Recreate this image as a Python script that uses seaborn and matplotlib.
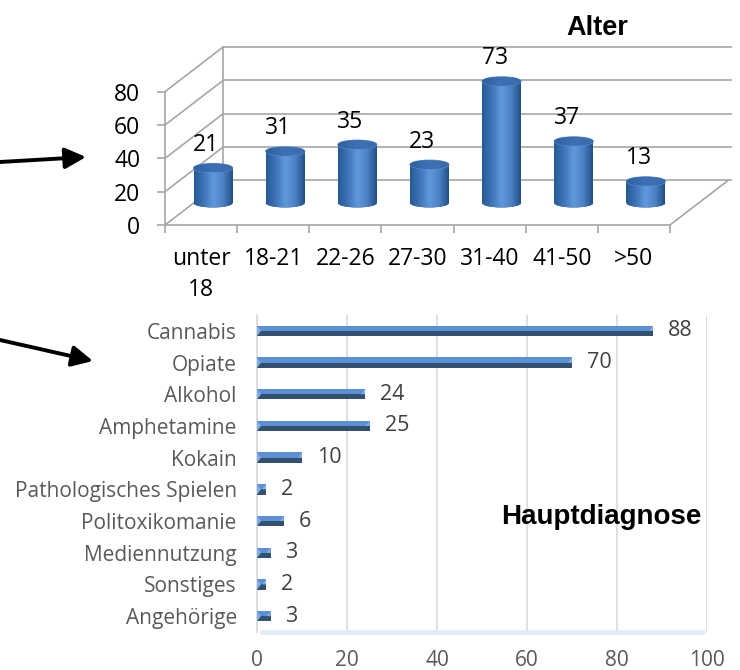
import numpy as np
import matplotlib
matplotlib.use('Agg')
import matplotlib.pyplot as plt
import matplotlib.transforms as mtransforms
from matplotlib.colors import LinearSegmentedColormap
from matplotlib.patches import Ellipse, Rectangle, Polygon, FancyArrowPatch
import seaborn as sns

# data
age_groups = ['unter\n18', '18-21', '22-26', '27-30', '31-40', '41-50', '>50']
age_counts = [21, 31, 35, 23, 73, 37, 13]
age_ticks = [0, 20, 40, 60, 80]

diagnoses = ['Cannabis', 'Opiate', 'Alkohol', 'Amphetamine', 'Kokain',
             'Pathologisches Spielen', 'Politoxikomanie', 'Mediennutzung',
             'Sonstiges', 'Angehörige']
diag_counts = [88, 70, 24, 25, 10, 2, 6, 3, 2, 3]
diag_ticks = [0, 20, 40, 60, 80, 100]

sns.set_style('white')
plt.rcParams['font.family'] = ['Open Sans', 'DejaVu Sans']

W, H = 740, 670
fig = plt.figure(figsize=(W / 100, H / 100), dpi=100)


def fig_box(x0, y0, x1, y1):
    # pixel box (top-left origin) -> figure fraction
    return [x0 / W, 1 - y1 / H, (x1 - x0) / W, (y1 - y0) / H]


def gradient_fill(ax, patch, colors, trans, zorder):
    cmap = LinearSegmentedColormap.from_list('g', colors)
    ext = patch.get_extents()
    inv = trans.inverted()
    (x0, y0), (x1, y1) = inv.transform([[ext.x0, ext.y0], [ext.x1, ext.y1]])
    im = ax.imshow(np.linspace(0, 1, 128)[None, :], cmap=cmap, aspect='auto',
                   extent=[x0, x1, y0, y1], zorder=zorder, interpolation='bilinear')
    im.set_transform(trans)
    im.set_clip_path(patch)


# ---------- top chart: Alter (pseudo 3D cylinders) ----------
ax1 = fig.add_axes(fig_box(165, 30, 732, 225))
ppx = 72.14   # pixels per category
ppy = 1.667   # pixels per count

sns.barplot(x=list(range(len(age_counts))), y=age_counts, color='#4a7fc1',
            width=0.54, ax=ax1, zorder=3, native_scale=True)
ax1.set_xlim(-0.5, -0.5 + 567 / ppx)
ax1.set_ylim(0, 195 / ppy)

# depth of the back wall and of the cylinders (in pixels)
back_dx, back_dy = 58 / ppx, 44.5 / ppy
shift = ax1.transData + mtransforms.Affine2D().translate(12, 22)

grid_col = '#a6a6a6'
x_left, x_right = -0.5, -0.5 + 567 / ppx
for lv in age_ticks:
    ax1.plot([x_left, x_left + back_dx], [lv, lv + back_dy], color=grid_col, lw=1.2, zorder=1)
    ax1.plot([x_left + back_dx, x_right], [lv + back_dy] * 2, color=grid_col, lw=1.2, zorder=1)
ax1.plot([x_left + back_dx] * 2, [back_dy, age_ticks[-1] + back_dy], color=grid_col, lw=1.2, zorder=1)
ax1.plot([len(age_counts) - 0.5, len(age_counts) - 0.5 + back_dx], [0, back_dy],
         color=grid_col, lw=1.2, zorder=1)

ell_h = 9 / ppy
body_cols = ['#285894', '#3f75b8', '#6199da', '#4c82c4', '#24508a']
for i, p in enumerate(ax1.patches):
    p.set_transform(shift)
    p.set_edgecolor('none')
    xc = p.get_x() + p.get_width() / 2
    w = p.get_width()
    v = p.get_height()
    bottom = Ellipse((xc, 0), w, ell_h, transform=shift, facecolor='#3a6fb0',
                     edgecolor='none', zorder=2.5)
    ax1.add_patch(bottom)
    gradient_fill(ax1, bottom, body_cols, shift, 2.6)
    gradient_fill(ax1, p, body_cols, shift, 3.1)
    top = Ellipse((xc, v), w, ell_h, transform=shift, facecolor='#3b6db1',
                  edgecolor='#5a8fd0', lw=0.8, zorder=4)
    ax1.add_patch(top)
    gradient_fill(ax1, top, ['#2f5f9f', '#3e71b4', '#3a6aab'], shift, 4.1)
    ax1.annotate(str(age_counts[i]), (i, v), xytext=(3.6, 32.4), textcoords='offset points',
                 ha='center', va='center', fontsize=16.5, color='black', zorder=5)

for s in ['top', 'right']:
    ax1.spines[s].set_visible(False)
ax1.spines['left'].set_bounds(0, age_ticks[-1])
ax1.spines['bottom'].set_bounds(-0.5, len(age_counts) - 0.5)
for s in ['left', 'bottom']:
    ax1.spines[s].set_color(grid_col)
    ax1.spines[s].set_linewidth(1.2)

ax1.set_yticks(age_ticks)
ax1.set_yticklabels([str(t) for t in age_ticks], fontsize=16.5, color='black')
ax1.tick_params(axis='y', left=True, length=5.8, width=1.2, color=grid_col, pad=12)
ax1.set_xticks(range(len(age_groups)))
ax1.set_xticklabels(age_groups, fontsize=16.5, color='black', linespacing=1.35)
ax1.set_xticks(np.arange(-0.5, len(age_groups)), minor=True)
ax1.tick_params(axis='x', which='major', bottom=True, length=0, pad=16)
ax1.tick_params(axis='x', which='minor', bottom=True, length=5.8, width=1.2, color=grid_col)
ax1.set_xlabel('')
ax1.set_ylabel('')
ax1.patch.set_alpha(0)

fig.text(597 / W, 1 - 28 / H, 'Alter', ha='center', va='center', fontsize=19.5,
         fontweight='bold', family='Liberation Sans', color='black')

# ---------- bottom chart: Hauptdiagnose ----------
ax2 = fig.add_axes(fig_box(257, 315, 707, 632))
dark, light, cap = '#34506f', '#5b90d6', '#80ade3'
sns.barplot(x=diag_counts, y=diagnoses, orient='h', color=dark, width=0.33,
            saturation=1, ax=ax2, zorder=3)
ax2.set_xlim(0, 100)
ax2.set_ylim(len(diagnoses) - 0.5, -0.5)

dx_cap = 4 / 4.5
for p in ax2.patches[:len(diag_counts)]:
    x0, y0, w, h = p.get_x(), p.get_y(), p.get_width(), p.get_height()
    p.set_edgecolor('none')
    ax2.add_patch(Rectangle((x0, y0), w, h / 2, facecolor=light, edgecolor='none', zorder=3.2))
    ax2.add_patch(Polygon([[x0, y0], [x0 + dx_cap, y0 + h / 2], [x0, y0 + h]],
                          closed=True, facecolor=cap, edgecolor='none', zorder=3.3))
    ax2.add_patch(Polygon([[x0 + w - dx_cap, y0 + h / 2], [x0 + w, y0], [x0 + w, y0 + h / 2]],
                          closed=True, facecolor=cap, edgecolor='none', zorder=3.3))

for i, v in enumerate(diag_counts):
    ax2.annotate(str(v), (v, i), xytext=(10.8, 0), textcoords='offset points',
                 ha='left', va='center', fontsize=15.5, color='#404040')

ax2.set_xticks(diag_ticks)
ax2.set_xticklabels([str(t) for t in diag_ticks], fontsize=15, color='#595959')
ax2.set_yticklabels(diagnoses, fontsize=15, color='#595959')
ax2.tick_params(axis='x', length=0, pad=13)
ax2.tick_params(axis='y', length=0, pad=14.5)
ax2.grid(axis='x', color='#d9d9d9', lw=1.2, zorder=0)
ax2.grid(axis='y', visible=False)
for s in ['top', 'right', 'bottom']:
    ax2.spines[s].set_visible(False)
ax2.spines['left'].set_color('#d9d9d9')
ax2.spines['left'].set_linewidth(1.2)
ax2.set_xlabel('')
ax2.set_ylabel('')
ax2.axhline(len(diagnoses) - 0.5, xmin=0.01, xmax=0.99, color='#e2ecf8', lw=3.5,
            zorder=1, clip_on=False)

fig.text(601 / W, 1 - 517 / H, 'Hauptdiagnose', ha='center', va='center', fontsize=20,
         fontweight='bold', family='Liberation Sans', color='black')

# ---------- arrows ----------
arrow_kw = dict(arrowstyle='-|>,head_length=0.9,head_width=0.45', color='black', lw=2.8,
                shrinkA=0, shrinkB=0, mutation_scale=14)
fig.add_artist(FancyArrowPatch((0, 1 - 162 / H), (86 / W, 1 - 157 / H),
                               transform=fig.transFigure, **arrow_kw))
fig.add_artist(FancyArrowPatch((0, 1 - 340 / H), (93 / W, 1 - 361 / H),
                               transform=fig.transFigure, **arrow_kw))

fig.savefig('out.png', dpi=100)
